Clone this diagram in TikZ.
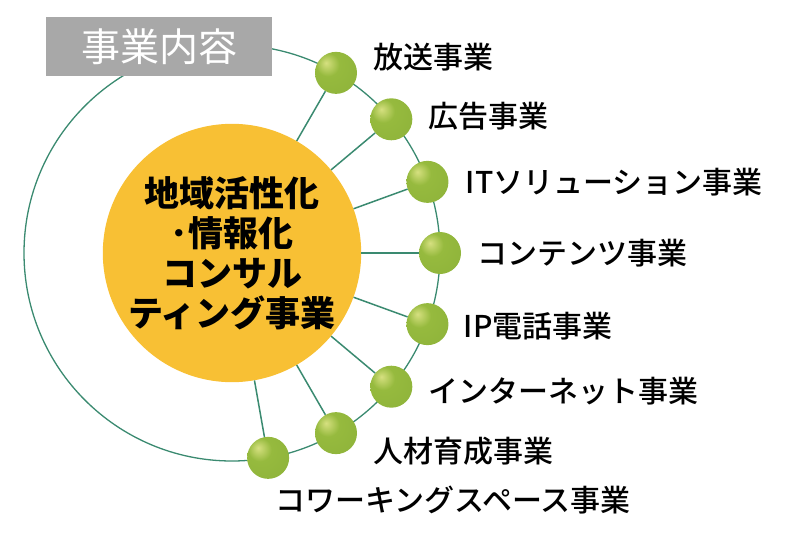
\documentclass[tikz,border=0pt]{standalone}
\usepackage{fontspec}
\setmainfont{Noto Sans CJK JP}
\newfontfamily\jpmedium{Noto Sans CJK JP}[UprightFont=* Medium]
\usetikzlibrary{positioning}
\definecolor{spokegreen}{RGB}{58,138,112}
\definecolor{coreorange}{RGB}{248,192,52}
\definecolor{boxgray}{RGB}{168,168,168}
\definecolor{ballhi}{RGB}{214,224,128}
\definecolor{ballmid}{RGB}{150,186,62}
\definecolor{balledge}{RGB}{96,138,36}
\pgfdeclareradialshading{greenball}{\pgfpoint{-12bp}{12bp}}{color(0bp)=(ballhi); color(14bp)=(ballmid); color(42bp)=(ballmid!85!balledge); color(62bp)=(balledge); color(80bp)=(balledge)}

\begin{document}
\begin{tikzpicture}[
    x=1pt, y=1pt,
    ball/.style={circle, minimum size=42pt, inner sep=0pt, shading=greenball},
    spoke/.style={draw=spokegreen, line width=1.5pt},
    item/.style={font=\jpmedium\fontsize{30}{34}\selectfont, anchor=west, inner sep=0pt},
    core/.style={circle, fill=coreorange, minimum size=234pt, inner sep=0pt, align=center,
        font=\fontsize{35}{40}\selectfont\bfseries}
]
    \useasboundingbox (0,0) rectangle (800,542);
    \coordinate (c) at (232,289);

    % outer ring
    \draw[spokegreen, line width=1.3pt] (c) circle (208);

    \node[core] (hub) at (c) {地域活性化\\･情報化\\コンサル\\ティング事業};

    \node[ball] (b1) at ([shift={(60:208)}]c) {};
    \node[ball] (b2) at ([shift={(40:208)}]c) {};
    \node[ball] (b3) at ([shift={(20:208)}]c) {};
    \node[ball] (b4) at ([shift={(0:208)}]c) {};
    \node[ball] (b5) at ([shift={(-20:208)}]c) {};
    \node[ball] (b6) at ([shift={(-40:208)}]c) {};
    \node[ball] (b7) at ([shift={(-60:208)}]c) {};
    \node[ball] (b8) at ([shift={(-80:208)}]c) {};

    \foreach \i in {1,...,8}
        \draw[spoke] (hub) -- (b\i);

    \node[item, right=16 of b1, yshift=16] (l1) {放送事業};
    \node[item, right=16 of b2, yshift=3] (l2) {広告事業};
    \node[item, right=17 of b3] (l3) {ITソリューション事業};
    \node[item, right=16 of b4] (l4) {コンテンツ事業};
    \node[item, right=15 of b5, yshift=-2] (l5) {IP電話事業};
    \node[item, right=16 of b6, yshift=-4] (l6) {インターネット事業};
    \node[item, right=16 of b7, yshift=-18] (l7) {人材育成事業};
    \node[item] (l8) at (275,42) {コワーキングスペース事業};

    \node[fill=boxgray, text=white, minimum width=226pt, minimum height=59pt, inner sep=0pt,
        font=\fontsize{39}{40}\selectfont] (title) at (159,495.5) {事業内容};
\end{tikzpicture}
\end{document}
